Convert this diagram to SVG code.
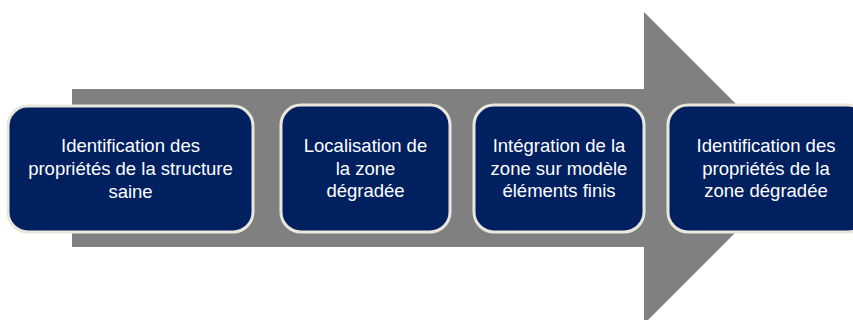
<svg xmlns="http://www.w3.org/2000/svg" width="853" height="320" viewBox="0 0 853 320">
<style>
.box{fill:#002060;stroke:#e9e7dc;stroke-width:3}
.t{font-family:"Liberation Sans",Arial,sans-serif;font-size:18.5px;fill:#ffffff;text-anchor:middle}
</style>
<rect width="853" height="320" fill="#ffffff"/>
<g id="arrow">
<polygon points="72,89 644,89 644,12 800,168 644,324 644,247 72,247" fill="#808080"/>
</g>
<g id="connectors"></g>
<g id="node1">
<rect class="box" x="8" y="106" width="245" height="126" rx="20"/>
<text class="t" x="130.5" y="152">Identification des</text>
<text class="t" x="130.5" y="175">propriétés de la structure</text>
<text class="t" x="130.5" y="198">saine</text>
</g>
<g id="node2">
<rect class="box" x="281" y="105" width="169" height="127" rx="20"/>
<text class="t" x="365.5" y="152">Localisation de</text>
<text class="t" x="365.5" y="175">la zone</text>
<text class="t" x="365.5" y="197">dégradée</text>
</g>
<g id="node3">
<rect class="box" x="474" y="105" width="170" height="127" rx="20"/>
<text class="t" x="559" y="152">Intégration de la</text>
<text class="t" x="559" y="175">zone sur modèle</text>
<text class="t" x="559" y="197">éléments finis</text>
</g>
<g id="node4">
<rect class="box" x="668" y="105" width="200" height="127" rx="20"/>
<text class="t" x="766" y="152">Identification des</text>
<text class="t" x="766" y="175">propriétés de la</text>
<text class="t" x="766" y="197">zone dégradée</text>
</g>
</svg>
